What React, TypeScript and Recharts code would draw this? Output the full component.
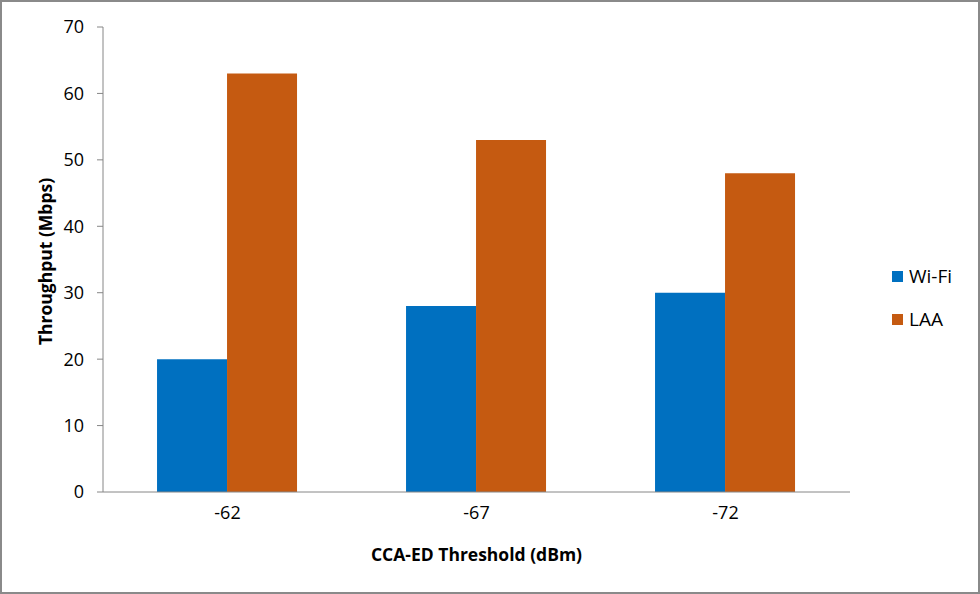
import React from 'react';
import { BarChart, Bar, XAxis, YAxis } from 'recharts';

// CCA-ED 임계값별 처리량
const categories = ['-62', '-67', '-72'];
const wifiValues = [20, 28, 30];
const laaValues = [63, 53, 48];
const yTicks = [0, 10, 20, 30, 40, 50, 60, 70];
const boundaryTicks = [0, 1, 2, 3];

const seriesList = [
  { key: 'wifi', name: 'Wi-Fi', color: '#0070C0' },
  { key: 'laa', name: 'LAA', color: '#C55A11' },
];

const data = categories.map((c, i) => ({ cat: c, wifi: wifiValues[i], laa: laaValues[i] }));

const FONT = '"Open Sans", Calibri, sans-serif';
const AXIS = '#868686';

export default function App() {
  return (
    <div style={{ position: 'absolute', left: 0, top: 0, width: 980, height: 594, background: '#fff' }}>
      <BarChart
        width={980}
        height={594}
        data={data}
        margin={{ top: 27, right: 130, bottom: 0, left: 0 }}
        barGap={0}
        barCategoryGap="21.7%"
      >
        <XAxis
          xAxisId="a"
          type="number"
          domain={[0, 3]}
          ticks={boundaryTicks}
          tick={false}
          tickSize={6}
          height={6}
          stroke={AXIS}
          axisLine={{ stroke: AXIS, strokeWidth: 1 }}
          tickLine={{ stroke: AXIS }}
        />
        <XAxis
          xAxisId="b"
          dataKey="cat"
          axisLine={false}
          tickLine={false}
          tickSize={0}
          tickMargin={8}
          height={96}
          tick={{ fill: '#000', fontSize: 18, fontFamily: FONT }}
          label={{
            value: 'CCA-ED Threshold (dBm)',
            position: 'insideBottom',
            offset: 33,
            style: { fill: '#000', fontSize: 17.5, fontWeight: 700, fontFamily: FONT },
          }}
        />
        <YAxis
          domain={[0, 70]}
          ticks={yTicks}
          width={103}
          tickSize={6}
          tickMargin={13}
          stroke={AXIS}
          axisLine={{ stroke: AXIS }}
          tickLine={{ stroke: AXIS }}
          tick={{ fill: '#000', fontSize: 18, fontFamily: FONT }}
          label={{
            value: 'Throughput (Mbps)',
            angle: -90,
            position: 'center',
            dx: -6,
            dy: 2,
            style: { fill: '#000', fontSize: 17.5, fontWeight: 700, fontFamily: FONT, textAnchor: 'middle' },
          }}
        />
        {seriesList.map((s) => (
          <Bar key={s.key} xAxisId="b" dataKey={s.key} name={s.name} fill={s.color} isAnimationActive={false} />
        ))}
      </BarChart>
      {/* 범례 */}
      <div style={{ position: 'absolute', left: 892, top: 263, fontFamily: FONT, fontSize: 19, color: '#000' }}>
        {seriesList.map((s, i) => (
          <div key={s.key} style={{ display: 'flex', alignItems: 'center', height: 26, marginBottom: i === 0 ? 17 : 0 }}>
            <span style={{ width: 11, height: 11, background: s.color, display: 'inline-block', marginRight: 6 }} />
            <span>{s.name}</span>
          </div>
        ))}
      </div>
      <div
        style={{
          position: 'absolute',
          left: 0,
          top: 0,
          width: 980,
          height: 594,
          boxSizing: 'border-box',
          border: '2px solid #8a8a8a',
          pointerEvents: 'none',
        }}
      />
    </div>
  );
}
